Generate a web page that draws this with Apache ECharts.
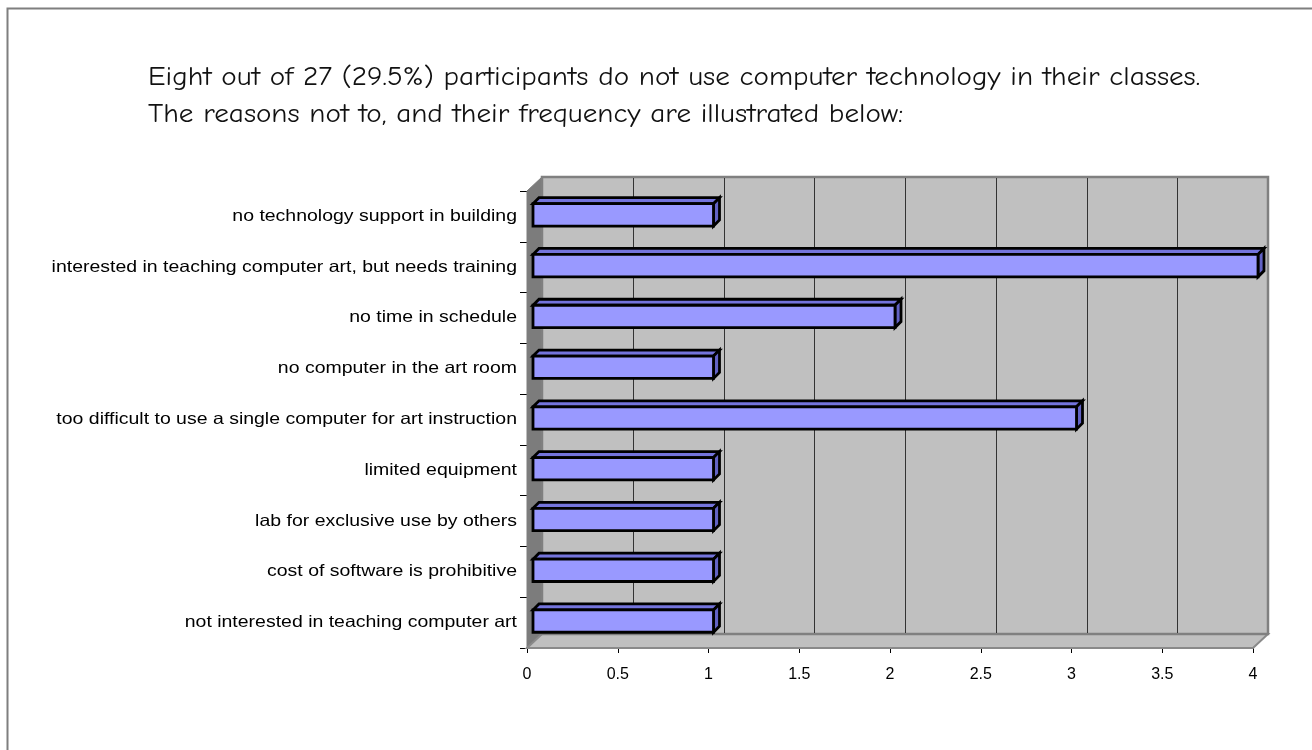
<!DOCTYPE html>
<html>
<head>
<meta charset="utf-8">
<title>Reasons for not using computer technology</title>
<script src="https://cdn.jsdelivr.net/npm/echarts@6/dist/echarts.min.js"></script>
<style>
  html, body { margin: 0; padding: 0; background: #ffffff; }
  #chart { width: 1312px; height: 750px; }
</style>
</head>
<body>
<div id="chart"></div>
<script>
// Reasons given, listed top to bottom
const categories = [
  'no technology support in building',
  'interested in teaching computer art, but needs training',
  'no time in schedule',
  'no computer in the art room',
  'too difficult to use a single computer for art instruction',
  'limited equipment',
  'lab for exclusive use by others',
  'cost of software is prohibitive',
  'not interested in teaching computer art'
];
// Number of participants giving each reason
const frequencies = [1, 4, 2, 1, 3, 1, 1, 1, 1];
// Value-axis ticks
const xTicks = [0, 0.5, 1, 1.5, 2, 2.5, 3, 3.5, 4];

const titleLines = [
  'Eight out of 27 (29.5%) participants do not use computer technology in their classes.',
  'The reasons not to, and their frequency are illustrated below:'
];

// depth of the 3D box (walls) and of each bar
const DX = 15, DY = 14;
const BX = 6, BY = 6;
const LABEL_FONT = 'Liberation Sans, Arial, sans-serif';

const chart = echarts.init(document.getElementById('chart'));

function renderWalls(params, api) {
  const cs = params.coordSys;
  const x0 = cs.x, y0 = cs.y, x1 = cs.x + cs.width, y1 = cs.y + cs.height;
  const children = [];
  // left side wall
  children.push({
    type: 'polygon',
    shape: { points: [[x0, y0], [x0 + DX, y0 - DY], [x0 + DX, y1 - DY], [x0, y1]] },
    style: { fill: '#7c7c7c', stroke: '#7c7c7c', lineWidth: 1 }
  });
  // floor
  children.push({
    type: 'polygon',
    shape: { points: [[x0, y1], [x0 + DX, y1 - DY], [x1 + DX, y1 - DY], [x1, y1]] },
    style: { fill: '#c0c0c0', stroke: '#8a8a8a', lineWidth: 2 }
  });
  // back wall
  children.push({
    type: 'rect',
    shape: { x: x0 + DX, y: y0 - DY, width: cs.width, height: cs.height },
    style: { fill: '#c0c0c0', stroke: '#808080', lineWidth: 2.5 }
  });
  // gridlines on the back wall
  xTicks.forEach(function (v) {
    if (v <= xTicks[0] || v >= xTicks[xTicks.length - 1]) return;
    const px = Math.round(api.coord([v, 0])[0] + DX) + 0.5;
    children.push({
      type: 'line',
      shape: { x1: px, y1: y0 - DY + 1, x2: px, y2: y1 - DY - 1 },
      style: { stroke: '#333333', lineWidth: 1 }
    });
  });
  return { type: 'group', silent: true, children: children };
}

function renderBar(params, api) {
  const val = api.value(0);
  const idx = api.value(1);
  const start = api.coord([0, idx]);
  const end = api.coord([val, idx]);
  const band = api.size([0, 1])[1];
  const l = start[0] + 6;
  const r = end[0] + 5;
  const t = start[1] - band * 0.25;
  const b = start[1] + band * 0.19;
  const edge = { stroke: '#000000', lineWidth: 2.8, lineJoin: 'miter' };
  return {
    type: 'group',
    children: [
      {
        type: 'polygon',
        shape: { points: [[l, t], [l + BX, t - BY], [r + BX, t - BY], [r, t]] },
        style: Object.assign({ fill: '#7474dc' }, edge)
      },
      {
        type: 'polygon',
        shape: { points: [[r, t], [r + BX, t - BY], [r + BX, b - BY], [r, b]] },
        style: Object.assign({ fill: '#6262c4' }, edge)
      },
      {
        type: 'rect',
        shape: { x: l, y: t, width: r - l, height: b - t },
        style: Object.assign({ fill: '#9999ff' }, edge)
      },
      // category label, right-aligned against the axis
      {
        type: 'text',
        x: start[0] - 10,
        y: start[1],
        scaleX: 1.18,
        style: {
          text: categories[idx],
          fontSize: 16.5,
          fontFamily: LABEL_FONT,
          fill: '#000000',
          align: 'right',
          verticalAlign: 'middle'
        }
      }
    ]
  };
}

chart.setOption({
  animation: false,
  backgroundColor: '#ffffff',
  grid: { left: 527, right: 59, top: 191, bottom: 102, containLabel: false },
  xAxis: {
    type: 'value',
    min: xTicks[0],
    max: xTicks[xTicks.length - 1],
    interval: 0.5,
    splitLine: { show: false },
    axisLine: { show: true, lineStyle: { color: '#555555', width: 2 } },
    axisTick: { show: true, length: 5, lineStyle: { color: '#000000', width: 1 } },
    axisLabel: {
      margin: 19, fontSize: 16, color: '#000000',
      fontFamily: LABEL_FONT
    }
  },
  yAxis: {
    type: 'category',
    data: categories,
    inverse: true,
    axisLine: { show: true, lineStyle: { color: '#000000', width: 1 } },
    axisTick: { show: true, length: 7, interval: 0, lineStyle: { color: '#000000', width: 1 } },
    axisLabel: { show: false },
    splitLine: { show: false }
  },
  graphic: [
    {
      type: 'rect', z: -10, silent: true,
      shape: { x: 7.5, y: 8.5, width: 1400, height: 800 },
      style: { fill: 'none', stroke: '#7f7f7f', lineWidth: 2 }
    },
    {
      type: 'text', x: 148, y: 59, scaleX: 1.08,
      style: {
        text: titleLines.join('\n'),
        font: '27px "Comic Sans MS", "Comic Neue", Lato, sans-serif',
        lineHeight: 37, fill: '#111111'
      }
    }
  ],
  series: [
    {
      type: 'custom',
      name: 'walls',
      z: 1,
      silent: true,
      data: [[0, 0]],
      encode: { x: 0, y: 1 },
      renderItem: renderWalls
    },
    {
      type: 'custom',
      name: 'frequency',
      z: 3,
      data: frequencies.map(function (v, i) { return [v, i]; }),
      encode: { x: 0, y: 1 },
      renderItem: renderBar
    }
  ]
});
</script>
</body>
</html>
